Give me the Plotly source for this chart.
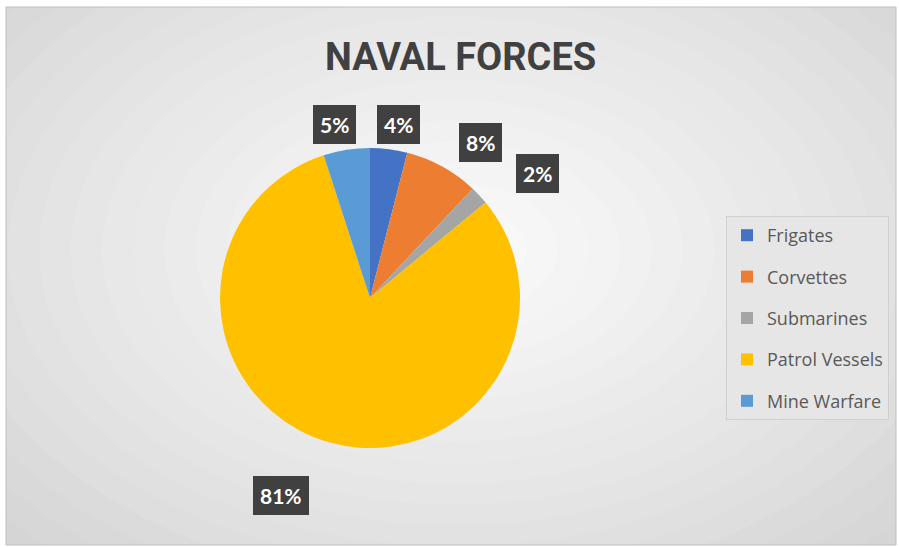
import numpy as np
import plotly.graph_objects as go

# ---- data ----
categories = ["Frigates", "Corvettes", "Submarines", "Patrol Vessels", "Mine Warfare"]
shares = [4, 8, 2, 81, 5]
colors = ["#4472C4", "#ED7D31", "#A5A5A5", "#FFC000", "#5B9BD5"]
title_text = "NAVAL FORCES"

W, H = 899, 547
# pie geometry (pixels)
cx, cy, r = 370, 298, 150

def px(x):
    return x / W

def py(y):
    return 1 - y / H

fig = go.Figure()
fig.add_trace(go.Pie(
    labels=categories,
    values=shares,
    marker=dict(colors=colors, line=dict(width=0)),
    sort=False,
    direction="clockwise",
    rotation=0,
    textinfo="none",
    hoverinfo="label+percent",
    showlegend=False,
    domain=dict(x=[px(cx - r), px(cx + r)], y=[py(cy + r), py(cy - r)]),
))

# legend entries (one per category, separate groups for spacing)
for name, col in zip(categories, colors):
    fig.add_trace(go.Scatter(
        x=[None], y=[None], mode="markers", name=name, legendgroup=name,
        marker=dict(symbol="square", size=12, color=col),
        showlegend=True, hoverinfo="skip",
    ))

# ---- data labels computed from the values (placed on an ellipse around the pie) ----
total = float(sum(shares))
cum = np.cumsum([0] + shares[:-1]) / total
mids = cum + np.array(shares) / total / 2
lcx, lcy, lrx, lry = 370, 283, 230, 160
annotations = []
for v, m in zip(shares, mids):
    ang = 2 * np.pi * m
    k = 1.0 if v < 50 else 1.38
    lx = lcx + k * lrx * np.sin(ang)
    ly = lcy - k * lry * np.cos(ang)
    annotations.append(dict(
        x=px(lx), y=py(ly), xref="paper", yref="paper",
        xanchor="center", yanchor="middle",
        text=f"<b>{round(100 * v / total)}%</b>", showarrow=False,
        font=dict(family="Lato, Open Sans, sans-serif", size=21, color="white"),
        bgcolor="#404040", borderpad=6, bordercolor="#404040",
    ))

annotations.append(dict(
    x=px(461), y=py(57), xref="paper", yref="paper", showarrow=False,
    xanchor="center", yanchor="middle",
    text="<b>" + title_text + "</b>",
    font=dict(family="Roboto, sans-serif", size=38, color="#404040"),
))

# ---- background radial gradient via shapes ----
shapes = [dict(type="rect", xref="paper", yref="paper", x0=0, x1=1, y0=0, y1=1,
               fillcolor="#c9c9c9", line=dict(width=0), layer="below")]
n = 24
for i in range(n):
    t = i / (n - 1)
    sx = 720 * (1 - t) + 40
    sy = 480 * (1 - t) + 25
    g = int(201 + (250 - 201) * t ** 0.8)
    col = f"rgb({g},{g},{g})"
    shapes.append(dict(type="circle", xref="paper", yref="paper",
                       x0=px(455 - sx), x1=px(455 + sx), y0=py(250 + sy), y1=py(250 - sy),
                       fillcolor=col, line=dict(width=0), layer="below"))
# white outer margins and frame
for (x0, x1, y0, y1) in [(0, 6, 0, H), (0, W, 0, 7), (896, W, 0, H), (0, W, 545, H)]:
    shapes.append(dict(type="rect", xref="paper", yref="paper",
                       x0=px(x0), x1=px(x1), y0=py(y1), y1=py(y0),
                       fillcolor="white", line=dict(width=0), layer="below"))
shapes.append(dict(type="rect", xref="paper", yref="paper",
                   x0=px(6), x1=px(896), y0=py(545), y1=py(7),
                   fillcolor="rgba(0,0,0,0)", line=dict(width=1, color="#bfbfbf"), layer="below"))

fig.update_layout(
    width=W, height=H,
    margin=dict(l=0, r=0, t=0, b=0),
    paper_bgcolor="white",
    plot_bgcolor="rgba(0,0,0,0)",
    xaxis=dict(visible=False),
    yaxis=dict(visible=False),
    showlegend=True,
    legend=dict(
        x=px(726), y=py(216), xanchor="left", yanchor="top",
        bgcolor="#e6e6e6", bordercolor="#d0d0d0", borderwidth=1,
        font=dict(family="Open Sans, sans-serif", size=18, color="#595959"),
        itemwidth=30, tracegroupgap=15,
    ),
    annotations=annotations,
    shapes=shapes,
)

fig.write_html("out.html")
